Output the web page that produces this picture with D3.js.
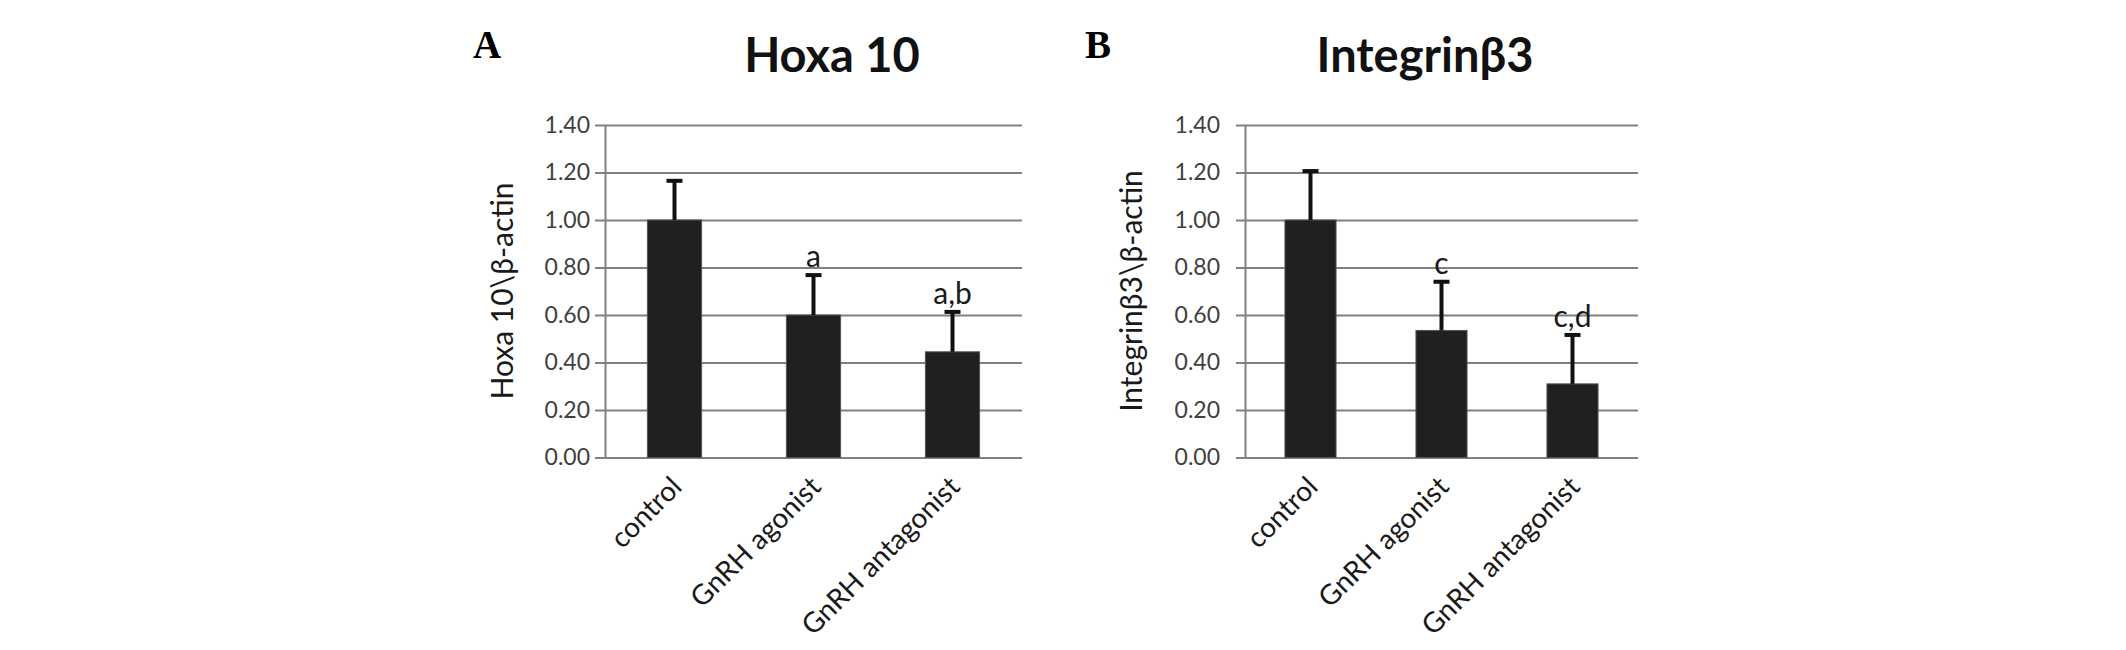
<!DOCTYPE html>
<html lang="en">
<head>
    <meta charset="UTF-8">
    <title>Hoxa 10 / Integrin beta3</title>
    <script src="https://d3js.org/d3.v7.min.js"></script>
    <style>
        body {
            margin: 0;
            background-color: white;
        }
        .tick-label {
            font-family: Lato, 'Noto Sans', sans-serif;
            font-size: 23px;
            fill: #404040;
        }
        .cat-label {
            font-family: Lato, 'Noto Sans', sans-serif;
            font-size: 28px;
            fill: #1a1a1a;
        }
        .axis-title {
            font-family: Lato, 'Noto Sans', sans-serif;
            font-size: 30px;
            fill: #1a1a1a;
        }
        .chart-title {
            font-family: Lato, 'Noto Sans', sans-serif;
            font-size: 47px;
            font-weight: bold;
            fill: #111;
        }
        .panel-letter {
            font-family: 'Liberation Serif', 'Times New Roman', serif;
            font-size: 39px;
            font-weight: bold;
            fill: #000;
        }
        .sig-label {
            font-family: Lato, 'Noto Sans', sans-serif;
            font-size: 30px;
            fill: #1a1a1a;
        }
    </style>
</head>
<body>
    <div id="chart"></div>

    <script>
        // data
        const categories = ["control", "GnRH agonist", "GnRH antagonist"];
        const yTicks = [0, 0.2, 0.4, 0.6, 0.8, 1.0, 1.2, 1.4];

        const hoxaMeans = [1.00, 0.60, 0.445];
        const hoxaErrors = [0.165, 0.168, 0.168];
        const hoxaLetters = ["", "a", "a,b"];

        const itgMeans = [1.00, 0.535, 0.31];
        const itgErrors = [0.206, 0.205, 0.206];
        const itgLetters = ["", "c", "c,d"];

        const width = 2126, height = 650;

        const svg = d3.select("#chart")
            .append("svg")
            .attr("width", width)
            .attr("height", height);

        const yTop = 125, yBottom = 457.5;
        const y = d3.scaleLinear().domain([0, 1.4]).range([yBottom, yTop]);

        function drawPanel(opts) {
            const {x0, x1, means, errors, letters, title, titleX, yTitle, yTitleX,
                   letter, letterX, tickLen, labelGap} = opts;

            const x = d3.scaleBand()
                .domain(categories)
                .range([x0, x1])
                .paddingInner(0.61)
                .paddingOuter(0.305);

            const g = svg.append("g");

            // gridlines
            g.append("g")
                .attr("transform", `translate(${x0},0)`)
                .call(d3.axisLeft(y).tickValues(yTicks).tickSize(-(x1 - x0)).tickFormat(""))
                .call(s => s.select(".domain").remove())
                .call(s => s.selectAll("line").attr("stroke", "#808080").attr("stroke-width", 2));

            // y axis with ticks and labels
            g.append("g")
                .attr("transform", `translate(${x0},0)`)
                .call(d3.axisLeft(y).tickValues(yTicks).tickSize(tickLen).tickSizeOuter(0)
                    .tickPadding(labelGap).tickFormat(d3.format(".2f")))
                .call(s => s.select(".domain").attr("stroke", "#808080").attr("stroke-width", 2))
                .call(s => s.selectAll("line").attr("stroke", "#808080").attr("stroke-width", 2))
                .call(s => s.selectAll("text").attr("class", "tick-label").attr("fill", null));

            // bars
            g.selectAll("rect.bar")
                .data(categories)
                .enter()
                .append("rect")
                .attr("class", "bar")
                .attr("x", d => x(d))
                .attr("width", x.bandwidth())
                .attr("y", (d, i) => y(means[i]))
                .attr("height", (d, i) => y(0) - y(means[i]))
                .attr("fill", "#202020")
                .attr("stroke", "#555")
                .attr("stroke-width", 1);

            // error bars
            const cx = d => x(d) + x.bandwidth() / 2;
            g.selectAll("line.err")
                .data(categories)
                .enter()
                .append("line")
                .attr("x1", cx).attr("x2", cx)
                .attr("y1", (d, i) => y(means[i]))
                .attr("y2", (d, i) => y(means[i] + errors[i]))
                .attr("stroke", "#111")
                .attr("stroke-width", 4);

            g.selectAll("line.cap")
                .data(categories)
                .enter()
                .append("line")
                .attr("x1", d => cx(d) - 8).attr("x2", d => cx(d) + 8)
                .attr("y1", (d, i) => y(means[i] + errors[i]))
                .attr("y2", (d, i) => y(means[i] + errors[i]))
                .attr("stroke", "#111")
                .attr("stroke-width", 4);

            // significance letters
            g.selectAll("text.sig")
                .data(categories)
                .enter()
                .append("text")
                .attr("class", "sig-label")
                .attr("x", cx)
                .attr("y", (d, i) => y(means[i] + errors[i]) - 8)
                .attr("text-anchor", "middle")
                .text((d, i) => letters[i]);

            // category labels, rotated
            g.selectAll("text.cat")
                .data(categories)
                .enter()
                .append("text")
                .attr("class", "cat-label")
                .attr("text-anchor", "end")
                .attr("transform", d => `translate(${cx(d) + 9},${yBottom + 31}) rotate(-45)`)
                .text(d => d);

            // y axis title
            g.append("text")
                .attr("class", "axis-title")
                .attr("text-anchor", "middle")
                .attr("transform", `translate(${yTitleX},${291}) rotate(-90)`)
                .text(yTitle);

            // chart title
            g.append("text")
                .attr("class", "chart-title")
                .attr("x", titleX)
                .attr("y", 72)
                .attr("text-anchor", "middle")
                .text(title);

            // panel letter
            g.append("text")
                .attr("class", "panel-letter")
                .attr("x", letterX)
                .attr("y", 58)
                .text(letter);
        }

        drawPanel({
            x0: 605, x1: 1022,
            means: hoxaMeans, errors: hoxaErrors, letters: hoxaLetters,
            title: "Hoxa 10", titleX: 832,
            yTitle: "Hoxa 10\\β-actin", yTitleX: 513,
            letter: "A", letterX: 473,
            tickLen: 10, labelGap: 5
        });

        drawPanel({
            x0: 1245, x1: 1638,
            means: itgMeans, errors: itgErrors, letters: itgLetters,
            title: "Integrinβ3", titleX: 1425,
            yTitle: "Integrinβ3\\β-actin", yTitleX: 1142,
            letter: "B", letterX: 1085,
            tickLen: 9, labelGap: 16
        });
    </script>
</body>
</html>
